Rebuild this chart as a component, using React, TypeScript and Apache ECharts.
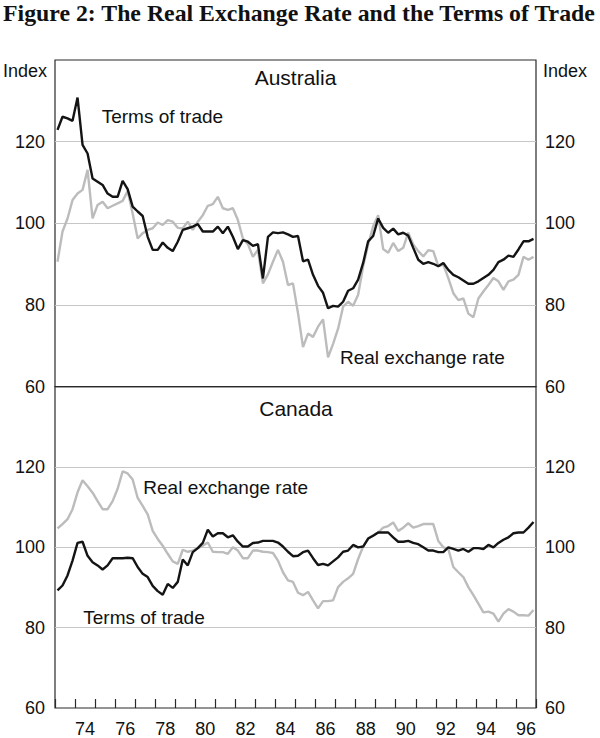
import React, { useEffect, useRef } from "react";
import * as echarts from "echarts";

const years = ["73","74","75","76","77","78","79","80","81","82","83","84","85","86","87","88","89","90","91","92","93","94","95","96"];
const quarters = years.flatMap((y) => ["Q1", "Q2", "Q3", "Q4"].map((q) => `19${y}${q}`));

const ausTermsOfTrade = [
  122.9,126.1,125.7,125.1,130.8,119.2,117.1,111,110.2,109.4,107.3,106.5,106.5,110.4,108.4,104.1,
  102.9,101.8,96.7,93.5,93.5,95.3,94,93.2,95.5,98.4,98.8,99.2,99.8,98,98,98,
  99.2,97.6,99.2,96.7,93.7,95.9,95.5,94.5,94.9,86.5,96.7,97.8,97.6,97.8,97.3,96.7,
  96.9,90.7,91.1,87.4,84.7,83,79.2,79.8,79.6,80.8,83.5,84.1,86.2,90.3,95.6,96.9,
  101.2,98.9,97.7,98.7,97.3,97.7,97,94,91.1,90.1,90.5,90.1,89.5,90.3,88.6,87.4,
  86.8,86,85.2,85.2,85.8,86.6,87.4,88.6,90.5,91.1,92.1,91.8,93.6,95.6,95.6,96.2,
];
const ausRealExchangeRate = [
  90.6,98,101.2,105.7,107.3,108.2,113.1,101.2,104.5,105.3,103.7,104.3,104.9,105.5,107.9,102.4,
  96.3,97.6,98.4,98.8,100.2,99.6,100.8,100.4,98.9,98.8,100.4,98.4,100.4,102,104.3,104.7,
  106.5,103.7,103.3,103.7,100.8,96.3,94.9,91.8,93.5,85.3,87.5,90.6,93.5,90.6,84.9,85.3,
  78,69.7,73,72.2,74.7,76.5,67.2,70.5,74.2,79.6,80.8,79.8,82.5,89.5,94.8,99.3,
  102,93.7,92.8,95.2,93.2,94,97.7,94.8,93.2,91.9,93.4,93.2,89.5,89.9,86.6,82.9,
  81.2,81.6,77.9,77,81.6,83.3,84.9,86.6,85.8,83.7,85.8,86.2,87.4,91.8,91.1,91.8,
];
const canTermsOfTrade = [
  89.3,90.5,93,96.7,101.1,101.4,97.9,96.3,95.5,94.5,95.5,97.3,97.3,97.3,97.4,97.3,
  95.1,93.4,92.6,90.4,89.1,88.2,90.9,89.9,91.4,97,95.5,98.8,99.8,101.1,104.4,102.7,
  103.5,103.5,102.5,103,101.4,100.2,100.2,101.1,101.2,101.6,101.6,101.6,101.2,100.2,98.9,97.8,
  97.9,98.8,99.2,97.3,95.6,95.9,95.5,96.5,97.5,98.9,99.2,100.6,100,100.2,102.2,102.9,
  103.7,103.7,103.7,102.5,101.4,101.4,101.6,101.1,100.8,100,99.2,99.2,98.8,98.8,100,99.6,
  99.2,99.6,98.9,99.8,99.8,99.6,100.6,100,101.1,101.9,102.5,103.5,103.7,103.7,104.9,106.3,
];
const canRealExchangeRate = [
  104.7,105.8,107,109.5,113.7,116.7,115.2,113.6,111.5,109.5,109.5,111.5,114.6,118.9,118.4,116.9,
  112.3,110.3,108.2,104.1,102.1,100.4,98.4,96.5,95.9,99.4,98.9,99.2,99.8,100.4,101.2,98.9,
  98.8,98.8,98.4,100,99.2,97.3,97.3,99.2,99.2,98.9,98.8,98.6,96.7,93.8,91.8,91.4,
  88.7,88.1,88.9,86.8,84.8,86.6,86.6,86.8,90.1,91.4,92.3,93.4,97.1,100.2,102.2,103,
  103.7,104.9,105.3,106.2,104.1,104.9,106,104.9,105.3,105.8,105.8,105.8,101.6,100,99.6,95.1,
  93.8,92.6,90.1,88.1,86,83.8,84,83.5,81.5,83.5,84.6,84,83.1,83.1,83,84.4,
];

const TITLE = "Figure 2: The Real Exchange Rate and the Terms of Trade";
const FONT = '"Liberation Sans", Arial, Helvetica, sans-serif';
const TXT = "#111";
const GRAY = "#bcbcbc";
const BLACK = "#141414";

export default function App() {
  const ref = useRef<HTMLDivElement>(null);
  useEffect(() => {
    if (!ref.current) return;
    const chart = echarts.init(ref.current, null, { renderer: "svg" });

    const yAxisBase = (gridIndex: number, position: "left" | "right") => ({
      type: "value",
      gridIndex,
      position,
      min: 60,
      max: 140,
      interval: 20,
      axisLine: { show: false },
      axisTick: { show: false },
      axisLabel: {
        show: true,
        showMaxLabel: false,
        color: TXT,
        fontSize: 18,
        fontFamily: FONT,
        margin: position === "left" ? 10 : 9,
      },
      splitLine: {
        show: position === "left",
        showMinLine: false,
        showMaxLine: false,
        lineStyle: { color: "#c6c6c6", width: 1 },
      },
    });

    const lineSeries = (data: number[], color: string, xi: number, yi: number, z: number) => ({
      type: "line",
      data,
      xAxisIndex: xi,
      yAxisIndex: yi,
      showSymbol: false,
      symbol: "none",
      lineStyle: { color, width: 2.4 },
      z,
      silent: true,
    });

    const text = (t: string, x: number, y: number, size: number, align = "left", extra: any = {}) => ({
      type: "text",
      x,
      y,
      silent: true,
      style: {
        text: t,
        fill: TXT,
        fontSize: size,
        fontFamily: FONT,
        align,
        verticalAlign: "middle",
        ...extra,
      },
    });

    chart.setOption({
      animation: false,
      grid: [
        { left: 55, top: 60, width: 481, height: 326.7, show: true, borderColor: "#2a2a2a", borderWidth: 1.2, backgroundColor: "transparent" },
        { left: 55, top: 386.7, width: 481, height: 326, show: true, borderColor: "#2a2a2a", borderWidth: 1.2, backgroundColor: "transparent" },
      ],
      xAxis: [
        { type: "category", gridIndex: 0, data: quarters, boundaryGap: true, show: false },
        { type: "category", gridIndex: 1, data: quarters, boundaryGap: true, show: false, position: "top" },
        {
          type: "category",
          gridIndex: 1,
          data: years,
          boundaryGap: true,
          position: "bottom",
          axisLine: { show: false },
          axisTick: { show: true, inside: true, length: 9, interval: 0, lineStyle: { color: "#2a2a2a", width: 1.2 } },
          axisLabel: {
            interval: (i: number) => i % 2 === 1,
            color: TXT,
            fontSize: 18,
            fontFamily: FONT,
            margin: 12,
          },
          splitLine: { show: false },
        },
      ],
      yAxis: [yAxisBase(0, "left"), yAxisBase(0, "right"), yAxisBase(1, "left"), yAxisBase(1, "right")],
      series: [
        lineSeries(ausRealExchangeRate, GRAY, 0, 0, 2),
        lineSeries(ausTermsOfTrade, BLACK, 0, 0, 3),
        lineSeries(canRealExchangeRate, GRAY, 1, 2, 2),
        lineSeries(canTermsOfTrade, BLACK, 1, 2, 3),
      ],
      graphic: [
        {
          type: "text",
          x: 3,
          y: 12.5,
          silent: true,
          style: {
            text: TITLE,
            fill: TXT,
            fontSize: 23.8,
            lineHeight: 24,
            fontWeight: "bold",
            fontFamily: '"Liberation Serif", "Times New Roman", serif',
            verticalAlign: "middle",
          },
        },
        text("Index", 3, 70.5, 18),
        text("Index", 543, 70.5, 18),
        text("Australia", 295.5, 77.5, 21, "center"),
        text("Canada", 296, 408.3, 21, "center"),
        text("Terms of trade", 101.7, 116.7, 19),
        text("Real exchange rate", 340, 357.7, 19),
        text("Real exchange rate", 143.3, 487.3, 19),
        text("Terms of trade", 83.3, 617.7, 19),
      ],
    });
    return () => chart.dispose();
  }, []);

  return (
    <div
      ref={ref}
      style={{ position: "absolute", left: 0, top: 0, width: 600, height: 738, background: "#fff" }}
    />
  );
}
